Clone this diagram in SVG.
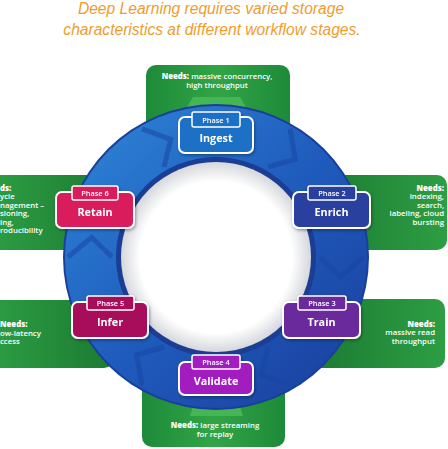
<svg xmlns="http://www.w3.org/2000/svg" width="448" height="449" viewBox="0 0 448 449">
<defs>
<style>
.title{font-family:"Liberation Sans",Arial,sans-serif;font-style:italic;font-size:15.6px;fill:#ef9c2c;text-anchor:middle}
.need{font-family:"Open Sans","Noto Sans",sans-serif;font-size:7.8px;fill:#ffffff;font-weight:600}
.b{font-weight:800}
.ph{font-family:"Open Sans","Noto Sans",sans-serif;font-size:7.4px;fill:#ffffff;font-weight:600;text-anchor:middle}
.nm{font-family:"Open Sans","Noto Sans",sans-serif;font-size:10.8px;fill:#ffffff;font-weight:700;text-anchor:middle}
.box{stroke:#ffffff;stroke-width:2}
.tab{stroke:#ffffff;stroke-width:1.5}
.chev{fill:none;stroke:#1a45a2;stroke-width:5;stroke-linejoin:miter;opacity:0.55}
.conn{fill:#46b554}
</style>
<linearGradient id="gTop" x1="0" y1="0" x2="1" y2="0">
<stop offset="0" stop-color="#1d8a39"/><stop offset="0.5" stop-color="#31a546"/><stop offset="1" stop-color="#1d8a39"/>
</linearGradient>
<linearGradient id="gR" x1="0" y1="0" x2="1" y2="0">
<stop offset="0" stop-color="#1b7a33"/><stop offset="1" stop-color="#2d9e43"/>
</linearGradient>
<linearGradient id="gL" x1="1" y1="0" x2="0" y2="0">
<stop offset="0" stop-color="#1b7a33"/><stop offset="1" stop-color="#2d9e43"/>
</linearGradient>
<linearGradient id="ringG" x1="0" y1="0" x2="1" y2="1">
<stop offset="0" stop-color="#2f88d9"/><stop offset="0.5" stop-color="#1f5cbd"/><stop offset="1" stop-color="#1a3d9c"/>
</linearGradient>
<radialGradient id="whiteG" cx="0.5" cy="0.5" r="0.5">
<stop offset="0.8" stop-color="#ffffff"/><stop offset="1" stop-color="#d5d7dc"/>
</radialGradient>
<filter id="sh" x="-20%" y="-20%" width="140%" height="150%">
<feDropShadow dx="1" dy="1.5" stdDeviation="1.4" flood-color="#000" flood-opacity="0.35"/>
</filter>
</defs>
<rect width="448" height="449" fill="#ffffff"/>
<text class="title" x="211" y="14">Deep Learning requires varied storage</text>
<text class="title" x="212" y="35">characteristics at different workflow stages.</text>

<g id="panels">
<rect x="146" y="65" width="144" height="90" rx="10" fill="url(#gTop)"/>
<rect x="142" y="355" width="143" height="92" rx="10" fill="url(#gTop)"/>
<rect x="310" y="175" width="137" height="75" rx="10" fill="url(#gR)"/>
<rect x="310" y="299" width="135" height="69" rx="10" fill="url(#gR)"/>
<rect x="-12" y="175" width="132" height="75" rx="10" fill="url(#gL)"/>
<rect x="-12" y="300" width="126" height="68" rx="10" fill="url(#gL)"/>
<polygon class="conn" points="193,97 240,97 249,112 184,112"/>
<polygon class="conn" points="195,400 238,400 243,416 190,416"/>
</g>

<g id="needs-text">
<text class="need" x="217" y="79" text-anchor="middle"><tspan class="b">Needs:</tspan> massive concurrency,</text>
<text class="need" x="217" y="88" text-anchor="middle">high throughput</text>
<text class="need" x="215" y="428" text-anchor="middle"><tspan class="b">Needs:</tspan> large streaming</text>
<text class="need" x="215" y="437" text-anchor="middle">for replay</text>
<g text-anchor="end">
<text class="need b" x="444" y="190.5">Needs:</text>
<text class="need" x="444" y="199">indexing,</text>
<text class="need" x="444" y="207.5">search,</text>
<text class="need" x="444" y="216">labeling, cloud</text>
<text class="need" x="444" y="224.5">bursting</text>
<text class="need b" x="435" y="326.5">Needs:</text>
<text class="need" x="435" y="335">massive read</text>
<text class="need" x="435" y="343.5">throughput</text>
</g>
<text class="need b" x="0" y="190.5">ds:</text>
<text class="need" x="0" y="199">ycle</text>
<text class="need" x="0" y="207.5">nagement –</text>
<text class="need" x="0" y="216">sioning,</text>
<text class="need" x="0" y="224.5">ing,</text>
<text class="need" x="0" y="233">roducibility</text>
<text class="need b" x="0" y="327">Needs:</text>
<text class="need" x="0" y="335.5">ow-latency</text>
<text class="need" x="0" y="344">ccess</text>
</g>

<g id="ring">
<circle cx="216" cy="257" r="153" fill="#1a3f9a"/>
<circle cx="216" cy="257" r="151" fill="url(#ringG)"/>
<circle cx="216" cy="257" r="100" fill="#1b3d93"/>
<circle cx="216" cy="257" r="95" fill="url(#whiteG)"/>
</g>

<g id="connectors">
<polyline class="chev" points="268,167 295.3,159.1 290,128.8"/>
<polyline class="chev" points="320,257 340.4,276.7 364,257"/>
<polyline class="chev" points="268,347 261.2,374.6 290,385.2"/>
<polyline class="chev" points="164,347 136.7,354.9 142,385.2"/>
<polyline class="chev" points="112,257 91.6,237.3 68,257"/>
<polyline class="chev" points="164,167 170.8,139.4 142,128.8"/>
</g>

<g id="phase1" filter="url(#sh)">
<rect class="box" x="179" y="117" width="74" height="36" rx="6" fill="#1a70c6"/>
<rect class="tab" x="192" y="112" width="48" height="15" rx="2" fill="#1a70c6"/>
<text class="ph" x="216" y="122.5">Phase 1</text>
<text class="nm" x="216" y="142">Ingest</text>
</g>
<g id="phase2" filter="url(#sh)">
<rect class="box" x="293" y="192" width="77" height="36" rx="6" fill="#2b409e"/>
<rect class="tab" x="308" y="186" width="48" height="14" rx="2" fill="#2b409e"/>
<text class="ph" x="332" y="195.8">Phase 2</text>
<text class="nm" x="331.5" y="216">Enrich</text>
</g>
<g id="phase3" filter="url(#sh)">
<rect class="box" x="283" y="302" width="77" height="36" rx="6" fill="#6b2b9b"/>
<rect class="tab" x="298" y="296" width="48" height="14" rx="2" fill="#6b2b9b"/>
<text class="ph" x="322" y="305.8">Phase 3</text>
<text class="nm" x="321.5" y="326">Train</text>
</g>
<g id="phase4" filter="url(#sh)">
<rect class="box" x="179" y="362" width="74" height="33" rx="6" fill="#a21fc0"/>
<rect class="tab" x="192" y="355" width="48" height="14" rx="2" fill="#a21fc0"/>
<text class="ph" x="216" y="364.8">Phase 4</text>
<text class="nm" x="216" y="385">Validate</text>
</g>
<g id="phase5" filter="url(#sh)">
<rect class="box" x="72" y="302" width="76" height="36" rx="6" fill="#a8105c"/>
<rect class="tab" x="87" y="296" width="47" height="14" rx="2" fill="#a8105c"/>
<text class="ph" x="110.5" y="305.8">Phase 5</text>
<text class="nm" x="110" y="326">Infer</text>
</g>
<g id="phase6" filter="url(#sh)">
<rect class="box" x="56" y="192" width="78" height="36" rx="6" fill="#d91c5c"/>
<rect class="tab" x="72" y="186" width="46" height="14" rx="2" fill="#d91c5c"/>
<text class="ph" x="95" y="195.8">Phase 6</text>
<text class="nm" x="95" y="216">Retain</text>
</g>
</svg>
